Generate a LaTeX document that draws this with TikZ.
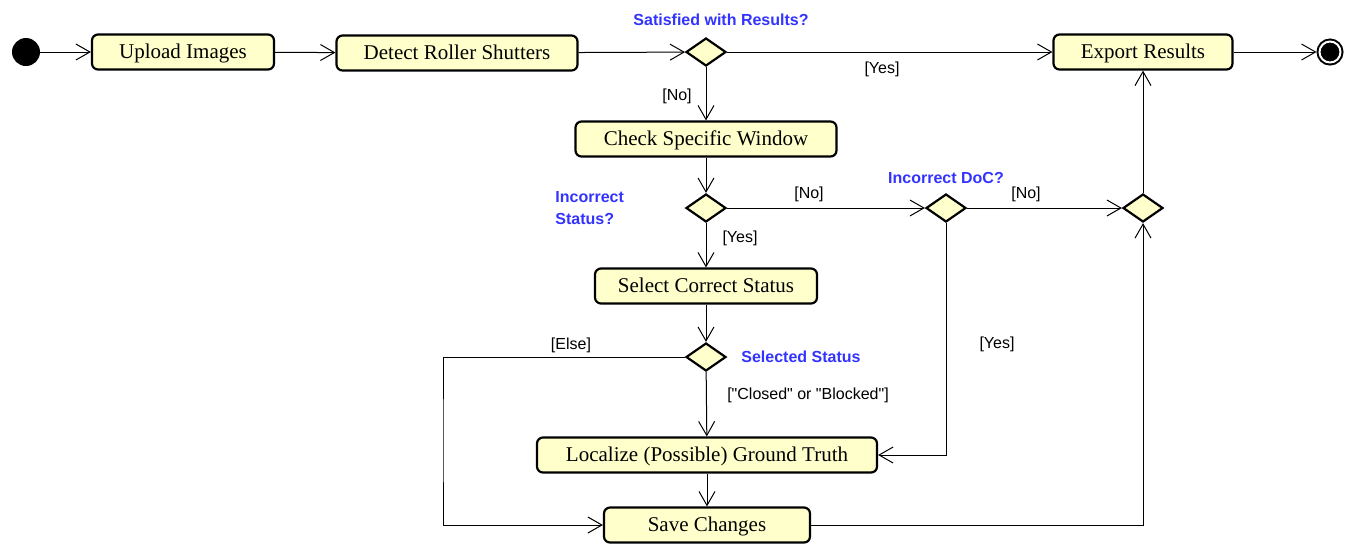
\documentclass[tikz,border=0pt]{standalone}
\usepackage{fontspec}
\setmainfont{Liberation Serif}
\setsansfont{Liberation Sans}[Ligatures=TeXOff]
\usetikzlibrary{arrows.meta,shapes.geometric}
\definecolor{actfill}{RGB}{255,255,204}
\definecolor{guardblue}{RGB}{51,51,255}
\tikzset{
    action/.style={draw, line width=1.1pt, rounded corners=3pt, fill=actfill,
        minimum height=17.5pt, inner sep=0pt, text height=9pt, text depth=2.2pt,
        font=\fontsize{10.5}{12}\selectfont},
    decision/.style={draw, diamond, line width=1.1pt, fill=actfill,
        minimum width=20pt, minimum height=14pt, inner sep=0pt},
    flow/.style={line width=0.5pt, -{Straight Barb[length=7pt,width=8pt]}},
    guard/.style={font=\sffamily\fontsize{8}{11}\selectfont, inner sep=0pt},
    question/.style={font=\sffamily\bfseries\fontsize{8}{11}\selectfont,
        text=guardblue, inner sep=0pt},
}
\begin{document}
\begin{tikzpicture}[x=0.5pt, y=-0.5pt]
    \useasboundingbox (0, 0) rectangle (1359, 554);
    % nodes
    \node[circle, fill=black, minimum size=14pt, inner sep=0pt] (start) at (26, 52) {};
    \node[action, minimum width=91pt] (upload) at (183, 52) {Upload Images};
    \node[action, minimum width=120.5pt] (detect) at (457, 53) {Detect Roller Shutters};
    \node[decision] (satisfied) at (706, 52) {};
    \node[action, minimum width=89.5pt] (export) at (1143, 52) {Export Results};
    \node[circle, fill=black, draw=black, double=white, double distance=1pt,
        line width=1pt, minimum size=10.5pt, inner sep=0pt, outer sep=1.5pt] (stop) at (1330, 52) {};
    \node[action, minimum width=130.5pt] (check) at (706, 139) {Check Specific Window};
    \node[decision] (status) at (706, 208) {};
    \node[decision] (doc) at (946, 208) {};
    \node[decision] (merge) at (1143, 208) {};
    \node[action, minimum width=111pt] (select) at (706, 286) {Select Correct Status};
    \node[decision] (selected) at (706, 357) {};
    \node[action, minimum width=170pt] (localize) at (707, 455) {Localize (Possible) Ground Truth};
    \node[action, minimum width=103pt] (save) at (707, 525) {Save Changes};
    \coordinate (elseturn) at (443, 440);
    % labels
    \node[question] (qsatisfied) at (721, 20) {Satisfied with Results?};
    \node[question, anchor=west, align=left] (qstatus) at (555, 208) {Incorrect\\Status?};
    \node[question] (qdoc) at (946, 178) {Incorrect DoC?};
    \node[question, anchor=west] (qselected) at (741, 357) {Selected Status};
    \node[guard] (gyes1) at (882, 69) {[Yes]};
    \node[guard] (gno1) at (677, 96) {[No]};
    \node[guard] (gno2) at (809, 194) {[No]};
    \node[guard] (gno3) at (1026, 194) {[No]};
    \node[guard] (gyes2) at (740, 238) {[Yes]};
    \node[guard] (gelse) at (571, 345) {[Else]};
    \node[guard] (gclosed) at (808, 395) {["Closed" or "Blocked"]};
    \node[guard] (gyes3) at (997, 344) {[Yes]};
    % connectors
    \draw[flow] (start) -- (upload);
    \draw[flow] (upload) -- (detect);
    \draw[flow] (detect) -- (satisfied);
    \draw[flow] (satisfied) -- (export);
    \draw[flow] (satisfied) -- (check);
    \draw[flow] (export) -- (stop);
    \draw[flow] (check) -- (status);
    \draw[flow] (status) -- (doc);
    \draw[flow] (doc) -- (merge);
    \draw[flow] (status) -- (select);
    \draw[flow] (doc) |- (localize);
    \draw[flow] (select) -- (selected);
    \draw[flow] (selected) -- (localize);
    \draw[flow] (selected) -| (elseturn) |- (save);
    \draw[flow] (localize) -- (save);
    \draw[flow] (save) -| (merge);
    \draw[flow] (merge) -- (export);
\end{tikzpicture}
\end{document}
